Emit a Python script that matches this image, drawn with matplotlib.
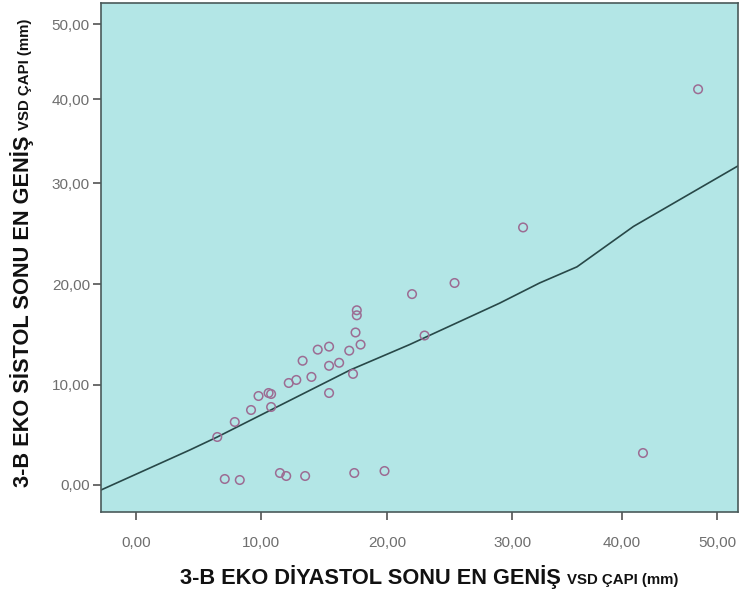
import numpy as np
import matplotlib
matplotlib.use("Agg")
import matplotlib.pyplot as plt
from matplotlib.ticker import FuncFormatter

# End-diastolic (x) and end-systolic (y) widest VSD diameters, mm
diastolic_mm = [6.5, 7.9, 9.2, 9.8, 10.6, 10.8, 10.8, 12.2, 12.8, 13.3,
                14.0, 14.5, 15.4, 15.4, 15.4, 16.2, 17.0, 17.9, 17.5, 17.6,
                17.6, 17.3, 22.0, 25.4, 23.0, 31.0, 48.0, 42.2, 7.1, 8.3,
                11.5, 12.0, 13.5, 17.4, 19.8]
systolic_mm = [4.8, 6.3, 7.5, 8.9, 9.2, 9.1, 7.8, 10.2, 10.5, 12.4,
               10.8, 13.5, 13.8, 11.9, 9.2, 12.2, 13.4, 14.0, 15.2, 16.9,
               17.4, 11.1, 19.0, 20.1, 14.9, 25.6, 41.3, 3.2, 0.6, 0.5,
               1.2, 0.9, 0.9, 1.2, 1.4]

# Fit line at total
fit_x = [-2.8, 4.3, 6.5, 17.1, 21.8, 29.0, 32.5, 35.9, 41.2, 52.3]
fit_y = [-0.5, 3.5, 4.8, 11.5, 14.0, 18.1, 20.1, 21.7, 25.7, 32.1]

tick_values = [0, 10, 20, 30, 40, 50]

X_LABEL = ("3-B EKO DİYASTOL SONU EN GENİŞ ", "VSD ÇAPI (mm)")
Y_LABEL = ("3-B EKO SİSTOL SONU EN GENİŞ ", "VSD ÇAPI (mm)")

# Axis scales: spacing between major ticks narrows above 30 on both axes
x_nodes = [-10, 0, 10, 20, 30, 40, 50, 60]
x_span = [-125, 0, 125, 251, 376, 486, 581, 676]
y_nodes = [-10, 0, 10, 20, 30, 40, 50, 60]
y_span = [-100, 0, 100, 201, 302, 386, 461, 536]


def fwd_x(v):
    return np.interp(v, x_nodes, x_span)


def inv_x(p):
    return np.interp(p, x_span, x_nodes)


def fwd_y(v):
    return np.interp(v, y_nodes, y_span)


def inv_y(p):
    return np.interp(p, y_span, y_nodes)


plt.rcParams['font.family'] = ['Liberation Sans', 'DejaVu Sans']

W, H = 739, 590
fig = plt.figure(figsize=(W / 100, H / 100), dpi=100, facecolor='white')
ax = fig.add_axes([101 / W, (H - 512) / H, (738 - 101) / W, (512 - 3) / H])
ax.set_facecolor('#b3e6e6')

ax.set_xscale('function', functions=(fwd_x, inv_x))
ax.set_yscale('function', functions=(fwd_y, inv_y))
ax.set_xlim(-2.8, 52.2)
ax.set_ylim(-2.7, 52.8)

ax.plot(fit_x, fit_y, color='#284848', lw=1.2, zorder=2)
ax.scatter(diastolic_mm, systolic_mm, s=38, facecolors='none',
           edgecolors='#9c6c93', linewidths=1.1, zorder=3)

fmt = FuncFormatter(lambda v, _: f"{v:.2f}".replace('.', ','))
ax.set_xticks(tick_values)
ax.set_yticks(tick_values)
ax.xaxis.set_major_formatter(fmt)
ax.yaxis.set_major_formatter(fmt)
ax.minorticks_off()
ax.tick_params(direction='out', length=6, width=1.1, color='#444444',
               labelcolor='#6e6e6e', labelsize=11)
ax.tick_params(axis='x', pad=11)
ax.tick_params(axis='y', pad=2)
for sp in ax.spines.values():
    sp.set_color('#4a5a5a')
    sp.set_linewidth(1.2)

renderer = fig.canvas.get_renderer()


def text_width(s, **kw):
    t = fig.text(0, 0, s, **kw)
    w = t.get_window_extent(renderer).width
    t.remove()
    return w


big_kw = dict(fontsize=15.7, weight='bold', color='#111111')
small_kw = dict(fontsize=10.8, weight='bold', color='#111111')


def two_part_label(parts, cx, cy, vertical):
    w1 = text_width(parts[0], **big_kw)
    w2 = text_width(parts[1], **small_kw)
    total = w1 + w2
    if vertical:
        x0, y0 = cx, cy - total / 2
        fig.text(x0 / W, y0 / H, parts[0], rotation=90, rotation_mode='anchor',
                 ha='left', va='baseline', **big_kw)
        fig.text(x0 / W, (y0 + w1) / H, parts[1], rotation=90,
                 rotation_mode='anchor', ha='left', va='baseline', **small_kw)
    else:
        x0, y0 = cx - total / 2, cy
        fig.text(x0 / W, y0 / H, parts[0], ha='left', va='baseline', **big_kw)
        fig.text((x0 + w1) / W, y0 / H, parts[1], ha='left', va='baseline',
                 **small_kw)


two_part_label(X_LABEL, 429, H - 584, vertical=False)
two_part_label(Y_LABEL, 29, H - 253, vertical=True)

fig.savefig('out.png', dpi=100, facecolor='white')
